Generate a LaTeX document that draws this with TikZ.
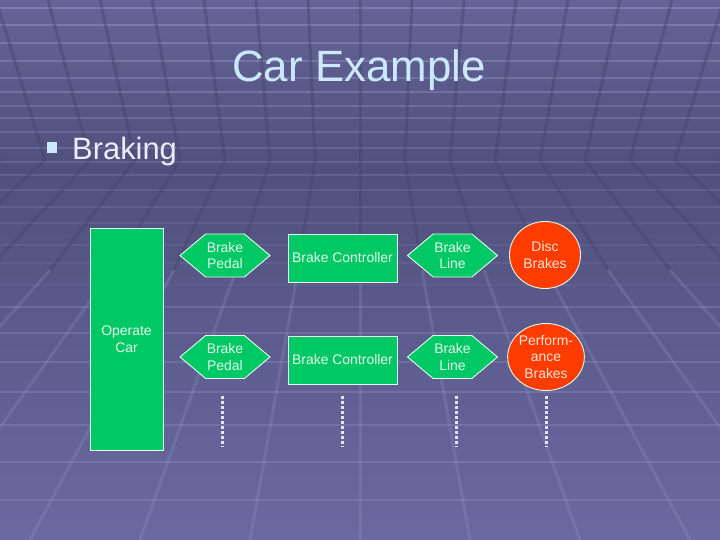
\documentclass[tikz,border=0pt]{standalone}
\usepackage{fontspec}
\setmainfont{Liberation Sans}
\usetikzlibrary{shapes.geometric,shapes.symbols}
\definecolor{bgtop}{RGB}{100,100,152}
\definecolor{bgmid}{RGB}{80,80,124}
\definecolor{bgbot}{RGB}{106,106,162}
\definecolor{gridln}{RGB}{150,150,200}
\definecolor{gridsep}{RGB}{66,66,104}
\definecolor{boxgreen}{RGB}{0,200,100}
\definecolor{brakered}{RGB}{255,60,0}
\definecolor{rimcol}{RGB}{225,250,240}
\definecolor{titlecol}{RGB}{204,232,255}
\definecolor{bodytext}{RGB}{236,236,250}
\definecolor{greentext}{RGB}{225,245,235}
\definecolor{redtext}{RGB}{255,228,214}
\definecolor{dotcol}{RGB}{228,228,245}
\tikzset{
  capt/.style={font=\fontsize{44}{50}\selectfont,text=titlecol,inner sep=0pt},
  bull/.style={font=\fontsize{31}{36}\selectfont,text=bodytext,inner sep=0pt},
  sqmark/.style={fill=titlecol,draw=none,minimum width=10bp,minimum height=11bp,inner sep=0pt},
  greenv/.style={draw=rimcol,fill=boxgreen,line width=0.9bp,inner sep=0pt,text=greentext,
    font=\fontsize{14}{17}\selectfont,align=center},
  hexv/.style={greenv,signal,signal to=east and west,signal pointer angle=80,
    minimum width=90bp,minimum height=43bp},
  ctrlv/.style={greenv,rectangle,minimum width=109bp,minimum height=48bp},
  brakev/.style={draw=rimcol,fill=brakered,line width=0.9bp,ellipse,inner sep=0pt,text=redtext,
    font=\fontsize{14}{17}\selectfont,align=center,minimum width=71bp,minimum height=67bp},
  dotv/.style={draw=dotcol,line width=3bp,dash pattern=on 3bp off 2bp},
  gridh/.style={draw=gridln,line width=2bp},
  gridlow/.style={draw=gridln,opacity=0.3,line width=1.5bp},
  griddark/.style={draw=gridsep,opacity=0.4,line width=3bp,line join=miter},
  gridlite/.style={draw=gridln,opacity=0.25,line width=3bp},
}

\begin{document}
\begin{tikzpicture}[x=1bp,y=-1bp]
  \useasboundingbox (0,0) rectangle (720,540);
  % background
  \shade[top color=bgtop,bottom color=bgmid] (0,0) rectangle (720,170);
  \shade[top color=bgmid,bottom color=bgbot] (0,170) rectangle (720,540);
  \begin{scope}
    \clip (0,0) rectangle (720,540);
    \foreach \yy in {8,25,43,61,78,92,106,118,132,148,162,175,190,207,223,245,263,285}
      \draw[gridh,opacity={0.5-\yy/700}] (0,\yy) -- (720,\yy);
    \foreach \yy in {307,333,362,392,425,462,500}
      \draw[gridlow] (0,\yy) -- (720,\yy);
    \foreach \k in {-9,...,9}
      \draw[griddark] ({360+52*\k},0) -- ({360+45*\k},160) -- ({360+62*\k},270);
    \foreach \k in {-9,...,9}
      \draw[gridlite] ({360+62*\k},270) -- ({360+110*\k},540);
  \end{scope}
  % title and bullet
  \node[capt,anchor=base] (title) at (359,82) {Car Example};
  \node[sqmark] (mark) at (52,147.5) {};
  \node[bull,anchor=base west] (braking) at (72,160) {Braking};
  % diagram
  \node[greenv,minimum width=73bp,minimum height=222bp] (opcar) at (126.5,339) {Operate\\Car};
  \node[hexv] (pedalA) at (225,255.5) {Brake\\Pedal};
  \node[ctrlv] (ctrlA) at (342.5,258) {Brake Controller};
  \node[hexv] (lineA) at (452.5,255.5) {Brake\\Line};
  \node[brakev] (disc) at (545,255) {Disc\\Brakes};
  \node[hexv] (pedalB) at (225,357) {Brake\\Pedal};
  \node[ctrlv] (ctrlB) at (342.5,360) {Brake Controller};
  \node[hexv] (lineB) at (452.5,357) {Brake\\Line};
  \node[brakev] (perf) at (546,357) {Perform-\\ance\\Brakes};
  % more of the same below
  \coordinate (dotA) at (222,396);  \coordinate (dotAe) at (222,447);
  \coordinate (dotB) at (342,396);  \coordinate (dotBe) at (342,447);
  \coordinate (dotC) at (456,396);  \coordinate (dotCe) at (456,447);
  \coordinate (dotD) at (546,396);  \coordinate (dotDe) at (546,447);
  \draw[dotv] (dotA) -- (dotAe);
  \draw[dotv] (dotB) -- (dotBe);
  \draw[dotv] (dotC) -- (dotCe);
  \draw[dotv] (dotD) -- (dotDe);
\end{tikzpicture}
\end{document}
